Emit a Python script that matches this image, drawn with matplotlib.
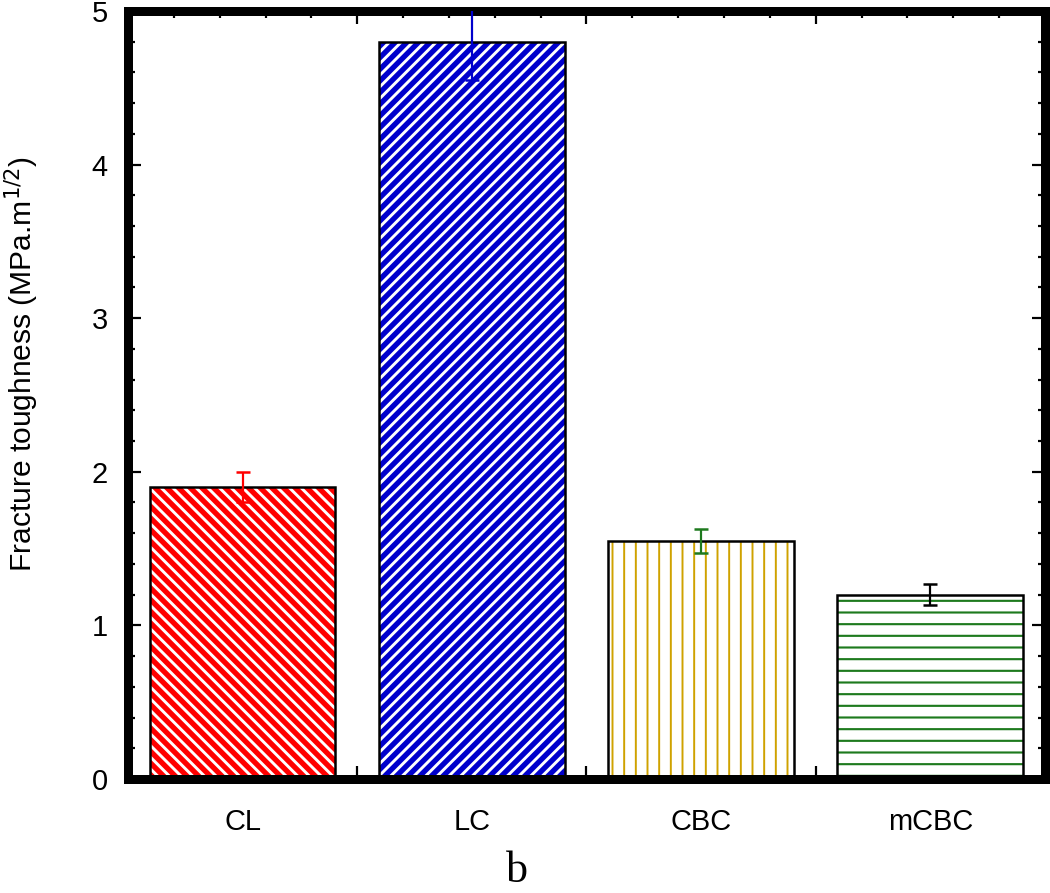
import matplotlib
matplotlib.use("Agg")
import matplotlib.pyplot as plt
from matplotlib.ticker import FixedLocator, MultipleLocator
import matplotlib.transforms as mtransforms

# data
samples = ["CL", "LC", "CBC", "mCBC"]
toughness = [1.9, 4.8, 1.55, 1.2]
toughness_err = [0.1, 0.25, 0.08, 0.07]

face_colors = ["#ff0000", "#0000cc", "white", "white"]
hatch_colors = ["white", "white", "#cfa200", "#1e7a1e"]
hatches = ["\\\\\\\\", "////", "||", "--"]
hatch_widths = [1.5, 1.5, 1.0, 1.1]
err_colors = ["#ff0000", "#0000cc", "#1e7a1e", "black"]

DPI = 140
def px(v):
    # pixel size -> points at the save dpi
    return v * 72.0 / DPI

plt.rcParams['font.family'] = ['Liberation Sans', 'DejaVu Sans']

fig = plt.figure(figsize=(1050 / DPI, 893 / DPI), dpi=DPI)
ax = fig.add_axes([0.1219, 0.1277, 0.8733, 0.860])

x = list(range(len(samples)))
# hatched fill first (hatch colour follows edgecolor), then black outline
for i in x:
    with plt.rc_context({'hatch.linewidth': hatch_widths[i]}):
        ax.bar(x[i], toughness[i], width=0.81, color=face_colors[i],
               edgecolor=hatch_colors[i], hatch=hatches[i], linewidth=0, zorder=2)
ax.bar(x, toughness, width=0.81, fill=False, edgecolor="black", linewidth=px(2.5), zorder=3)

for i in x:
    ax.errorbar(x[i], toughness[i], yerr=toughness_err[i], fmt="none",
                ecolor=err_colors[i], elinewidth=px(2.2), capsize=px(7), capthick=px(2.5), zorder=4)

ax.set_xlim(-0.5, 3.5)
ax.set_ylim(0, 5)

# frame
for sp in ax.spines.values():
    sp.set_linewidth(px(9))

# y ticks
ax.yaxis.set_major_locator(MultipleLocator(1))
ax.yaxis.set_minor_locator(MultipleLocator(0.2))
ax.tick_params(axis="y", which="both", direction="in", left=True, right=True,
               labelsize=px(29), pad=px(20))
ax.tick_params(axis="y", which="major", length=px(13), width=px(2.2))
ax.tick_params(axis="y", which="minor", length=px(7), width=px(2.2))

# x ticks: long marks between groups, short minor marks, labels at bar centres
ax.xaxis.set_major_locator(FixedLocator([-0.5, 0.5, 1.5, 2.5, 3.5]))
ax.xaxis.set_minor_locator(FixedLocator([-0.5 + 0.2 * k for k in range(21)]))
ax.tick_params(axis="x", which="both", direction="in", top=True, bottom=True, labelbottom=False)
ax.tick_params(axis="x", which="major", length=px(13), width=px(2.2))
ax.tick_params(axis="x", which="minor", length=px(7), width=px(2.2))

trans = mtransforms.blended_transform_factory(ax.transData, ax.transAxes)
for i, s in enumerate(samples):
    ax.text(x[i], -0.056, s, transform=trans, ha="center", va="center", fontsize=px(29))

ax.set_ylabel(r"Fracture toughness (MPa.m$^{1/2}$)", fontsize=px(30))
ax.yaxis.set_label_coords(-0.095, 0.54)

fig.text(0.492, 0.012, "b", ha="center", va="baseline", fontsize=px(44), family="Liberation Serif")

fig.savefig("out.png", dpi=DPI)
